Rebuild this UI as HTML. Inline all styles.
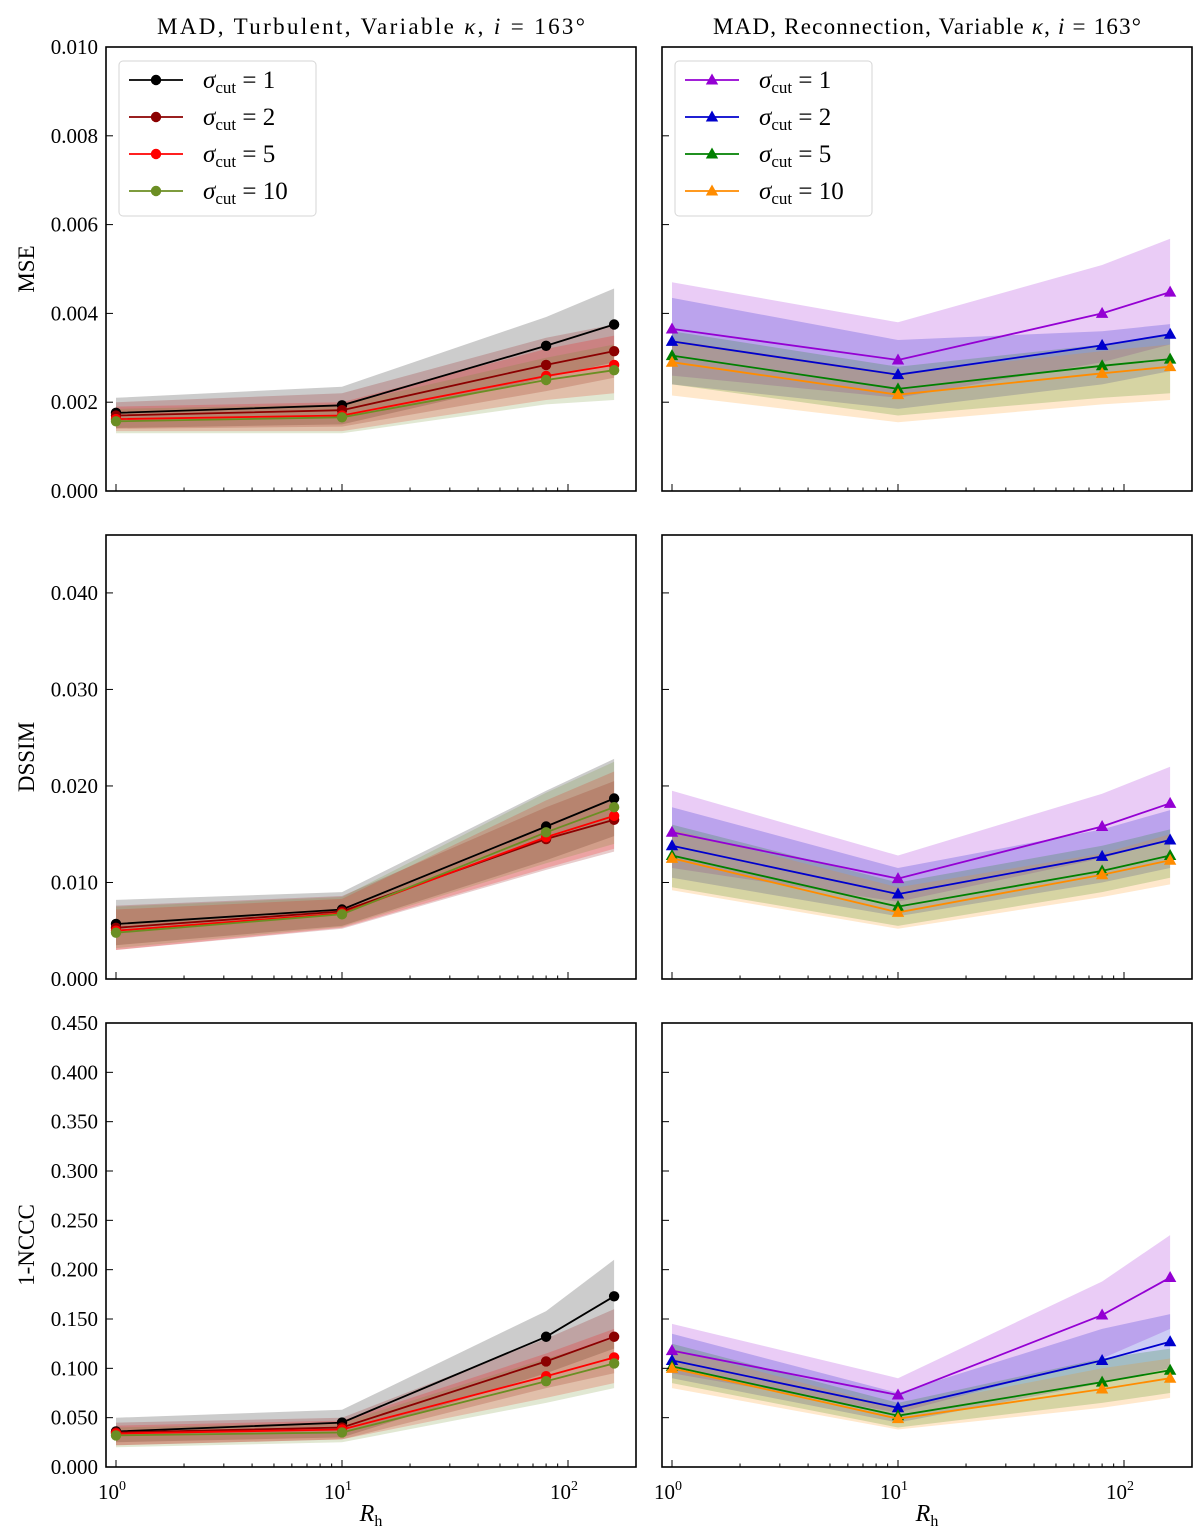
<!DOCTYPE html>
<html><head><meta charset="utf-8"><style>
body{margin:0;background:#fff}
svg{display:block;font-family:"Liberation Serif",serif}
</style></head><body>
<svg id="fig" width="1200" height="1530" viewBox="0 0 1200 1530" xmlns="http://www.w3.org/2000/svg"></svg>
<script>
const xVals=[1,10,80,160];
const sigmaLabels=['1','2','5','10'];
// MSE (x1e-3)
const mseTurbMean=[[1.76,1.93,3.27,3.75],[1.70,1.82,2.84,3.15],[1.62,1.70,2.59,2.84],[1.57,1.66,2.50,2.72]];
const mseTurbHi=[[2.1,2.35,3.92,4.56],[2.0,2.2,3.45,3.75],[1.9,2.0,3.2,3.5],[1.85,1.95,3.0,3.3]];
const mseTurbLo=[[1.42,1.5,2.55,2.9],[1.4,1.45,2.25,2.55],[1.35,1.35,2.05,2.2],[1.3,1.3,1.95,2.05]];
const mseRecMean=[[3.65,2.95,4.0,4.48],[3.37,2.62,3.28,3.53],[3.05,2.3,2.82,2.97],[2.9,2.17,2.65,2.8]];
const mseRecHi=[[4.7,3.8,5.09,5.68],[4.35,3.4,3.6,3.76],[3.6,2.8,3.3,3.5],[3.4,2.65,3.15,3.3]];
const mseRecLo=[[2.6,2.1,2.9,3.3],[2.4,1.85,2.4,2.7],[2.4,1.7,2.1,2.2],[2.15,1.55,1.95,2.05]];
// DSSIM (x1e-3)
const dsTurbMean=[[5.7,7.2,15.8,18.7],[5.3,7.0,14.5,16.5],[5.0,6.8,14.7,16.9],[4.8,6.7,15.2,17.8]];
const dsTurbHi=[[8.2,9.0,19.5,22.8],[7.6,8.6,17.8,20.5],[7.2,8.3,18.5,21.5],[7.5,8.5,19.3,22.5]];
const dsTurbLo=[[3.5,5.5,12.3,14.8],[3.0,5.2,11.3,13.2],[3.0,5.3,11.5,13.5],[3.2,5.4,12.0,14.0]];
const dsRecMean=[[15.2,10.4,15.8,18.2],[13.8,8.8,12.7,14.4],[12.8,7.5,11.2,12.8],[12.5,6.9,10.8,12.3]];
const dsRecHi=[[19.5,12.8,19.2,22.0],[17.8,11.5,15.5,17.5],[16,10,13.8,15.5],[15.5,9.5,13,15]];
const dsRecLo=[[11.5,8,12.5,14.5],[10.5,6.5,10,11.5],[9.5,5.5,9,10.5],[9.2,5.2,8.5,9.8]];
// 1-NCCC
const ncTurbMean=[[.036,.045,.132,.173],[.035,.040,.107,.132],[.034,.038,.092,.111],[.032,.035,.087,.105]];
const ncTurbHi=[[.05,.058,.158,.21],[.045,.05,.13,.16],[.042,.047,.115,.14],[.04,.045,.11,.13]];
const ncTurbLo=[[.025,.03,.095,.12],[.022,.028,.08,.095],[.022,.028,.07,.085],[.02,.025,.065,.08]];
const ncRecMean=[[.118,.073,.154,.192],[.108,.06,.108,.127],[.102,.052,.086,.098],[.100,.049,.079,.090]];
const ncRecHi=[[.145,.09,.188,.235],[.135,.075,.14,.155],[.125,.065,.11,.12],[.12,.06,.1,.11]];
const ncRecLo=[[.095,.055,.11,.14],[.09,.045,.085,.1],[.085,.04,.065,.075],[.08,.038,.06,.07]];
const mseTicks=['0.000','0.002','0.004','0.006','0.008','0.010'];
const dsTicks=['0.000','0.010','0.020','0.030','0.040'];
const ncTicks=['0.000','0.050','0.100','0.150','0.200','0.250','0.300','0.350','0.400','0.450'];

const turbColors=['#000000','#8b0000','#ff0000','#6b8e23'];
const recColors=['#9400d3','#0000cd','#008000','#ff8c00'];
const NS='http://www.w3.org/2000/svg';
const fig=document.getElementById('fig');
function mk(tag,attrs,parent){const e=document.createElementNS(NS,tag);for(const k in attrs)e.setAttribute(k,attrs[k]);(parent||fig).appendChild(e);return e;}

const cols=[{x0:106,x1:636,ref:116},{x0:662,x1:1192,ref:672}];
const rows=[{y0:47,y1:491,max:0.010,scale:1e-3,ticks:mseTicks,label:'MSE'},
            {y0:535,y1:979,max:0.046,scale:1e-3,ticks:dsTicks,label:'DSSIM'},
            {y0:1023,y1:1467,max:0.45,scale:1,ticks:ncTicks,label:'1-NCCC'}];
const data=[[[mseTurbMean,mseTurbHi,mseTurbLo],[mseRecMean,mseRecHi,mseRecLo]],
            [[dsTurbMean,dsTurbHi,dsTurbLo],[dsRecMean,dsRecHi,dsRecLo]],
            [[ncTurbMean,ncTurbHi,ncTurbLo],[ncRecMean,ncRecHi,ncRecLo]]];
const DEC=226;

rows.forEach((r,ri)=>{
  cols.forEach((c,ci)=>{
    const g=mk('g',{});
    
    
    const X=v=>c.ref+Math.log10(v)*DEC;
    const Y=v=>r.y1-(v*r.scale)/r.max*(r.y1-r.y0);
    const [M,H,L]=data[ri][ci];
    const colors=ci?recColors:turbColors;
    for(let s=0;s<4;s++){
      let d='';
      xVals.forEach((xv,i)=>{d+=(i?'L':'M')+X(xv).toFixed(1)+' '+Y(H[s][i]).toFixed(1);});
      for(let i=xVals.length-1;i>=0;i--)d+='L'+X(xVals[i]).toFixed(1)+' '+Y(L[s][i]).toFixed(1);
      const p=mk('path',{d:d+'Z',fill:colors[s],'fill-opacity':0.2},g);
      
      
    }
    for(let s=0;s<4;s++){
      const pts=xVals.map((xv,i)=>X(xv).toFixed(1)+','+Y(M[s][i]).toFixed(1)).join(' ');
      const pl=mk('polyline',{points:pts,fill:'none',stroke:colors[s],'stroke-width':1.8},g);
      
      
      xVals.forEach((xv,i)=>{
        const cx=X(xv),cy=Y(M[s][i]);
        let m;
        if(ci==0) m=mk('circle',{cx:cx,cy:cy,r:5.2,fill:colors[s]},g);
        else m=mk('path',{d:`M${cx} ${cy-6.5}L${cx+6.2} ${cy+4.5}L${cx-6.2} ${cy+4.5}Z`,fill:colors[s]},g);
        
        
      });
    }
    for(let dcd=0;dcd<3;dcd++){
      for(let k=1;k<10;k++){
        const xv=Math.pow(10,dcd)*k;const px=X(xv);
        if(px>c.x1)continue;
        const len=k==1?7:3.5;
        mk('line',{x1:px,x2:px,y1:r.y1,y2:r.y1-len,stroke:'#000','stroke-width':1},g);
      }
      if(ri==2){
        const px=X(Math.pow(10,dcd));
        const t=mk('text',{x:px-4,y:r.y1+32,'font-size':21,'text-anchor':'middle'},g);
        t.textContent='10';
        const sp=mk('tspan',{dy:-9,'font-size':14},t);sp.textContent=String(dcd);
        
        
      }
    }
    r.ticks.forEach(tl=>{
      const v=parseFloat(tl);const py=r.y1-v/r.max*(r.y1-r.y0);
      mk('line',{x1:c.x0,x2:c.x0+7,y1:py,y2:py,stroke:'#000','stroke-width':1},g);
      if(ci==0){
        const t=mk('text',{x:c.x0-8,y:py+7,'font-size':21,'text-anchor':'end'},g);
        t.textContent=tl;
        
        
      }
    });
    const fr=mk('rect',{x:c.x0,y:r.y0,width:c.x1-c.x0,height:r.y1-r.y0,fill:'none',stroke:'#000','stroke-width':1.6},g);
    
    
    if(ri==2){
      const t=mk('text',{x:(c.x0+c.x1)/2,y:1521,'font-size':24,'text-anchor':'middle','font-style':'italic'},g);
      t.textContent='R';
      const sp=mk('tspan',{dy:5,'font-size':16,'font-style':'normal'},t);sp.textContent='h';
      
      
    }
    if(ci==0){
      const cy=(r.y0+r.y1)/2;
      const t=mk('text',{x:34,y:cy,'font-size':23,'text-anchor':'middle',transform:`rotate(-90 34 ${cy})`},g);
      t.textContent=r.label;
      
      
    }
    if(ri==0){
      const t=mk('text',{x:(c.x0+c.x1)/2,y:34,'font-size':23,'text-anchor':'middle',textLength:428,lengthAdjust:'spacing'},g);
      t.innerHTML=(ci?'MAD, Reconnection, Variable ':'MAD, Turbulent, Variable ')+'<tspan font-style="italic">κ</tspan>, <tspan font-style="italic">i</tspan> = 163°';
      
      
      const lg=mk('g',{},g);
      
      
      const lx=c.x0+13;
      mk('rect',{x:lx,y:61,width:197,height:155,rx:4,fill:'#fff','fill-opacity':0.8,stroke:'#d6d6d6','stroke-width':1},lg);
      for(let s=0;s<4;s++){
        const ey=80+s*37;
        const e=mk('g',{},lg);
        
        
        mk('line',{x1:lx+10,x2:lx+64,y1:ey,y2:ey,stroke:colors[s],'stroke-width':1.8},e);
        const mx=lx+37;
        if(ci==0) mk('circle',{cx:mx,cy:ey,r:5.2,fill:colors[s]},e);
        else mk('path',{d:`M${mx} ${ey-6.5}L${mx+6.2} ${ey+4.5}L${mx-6.2} ${ey+4.5}Z`,fill:colors[s]},e);
        const t=mk('text',{x:lx+84,y:ey+8,'font-size':25},e);
        t.innerHTML='<tspan font-style="italic">σ</tspan><tspan font-size="17" dy="5">cut</tspan><tspan dy="-5"> = '+sigmaLabels[s]+'</tspan>';
      }
    }
  });
});
</script>
</body></html>
